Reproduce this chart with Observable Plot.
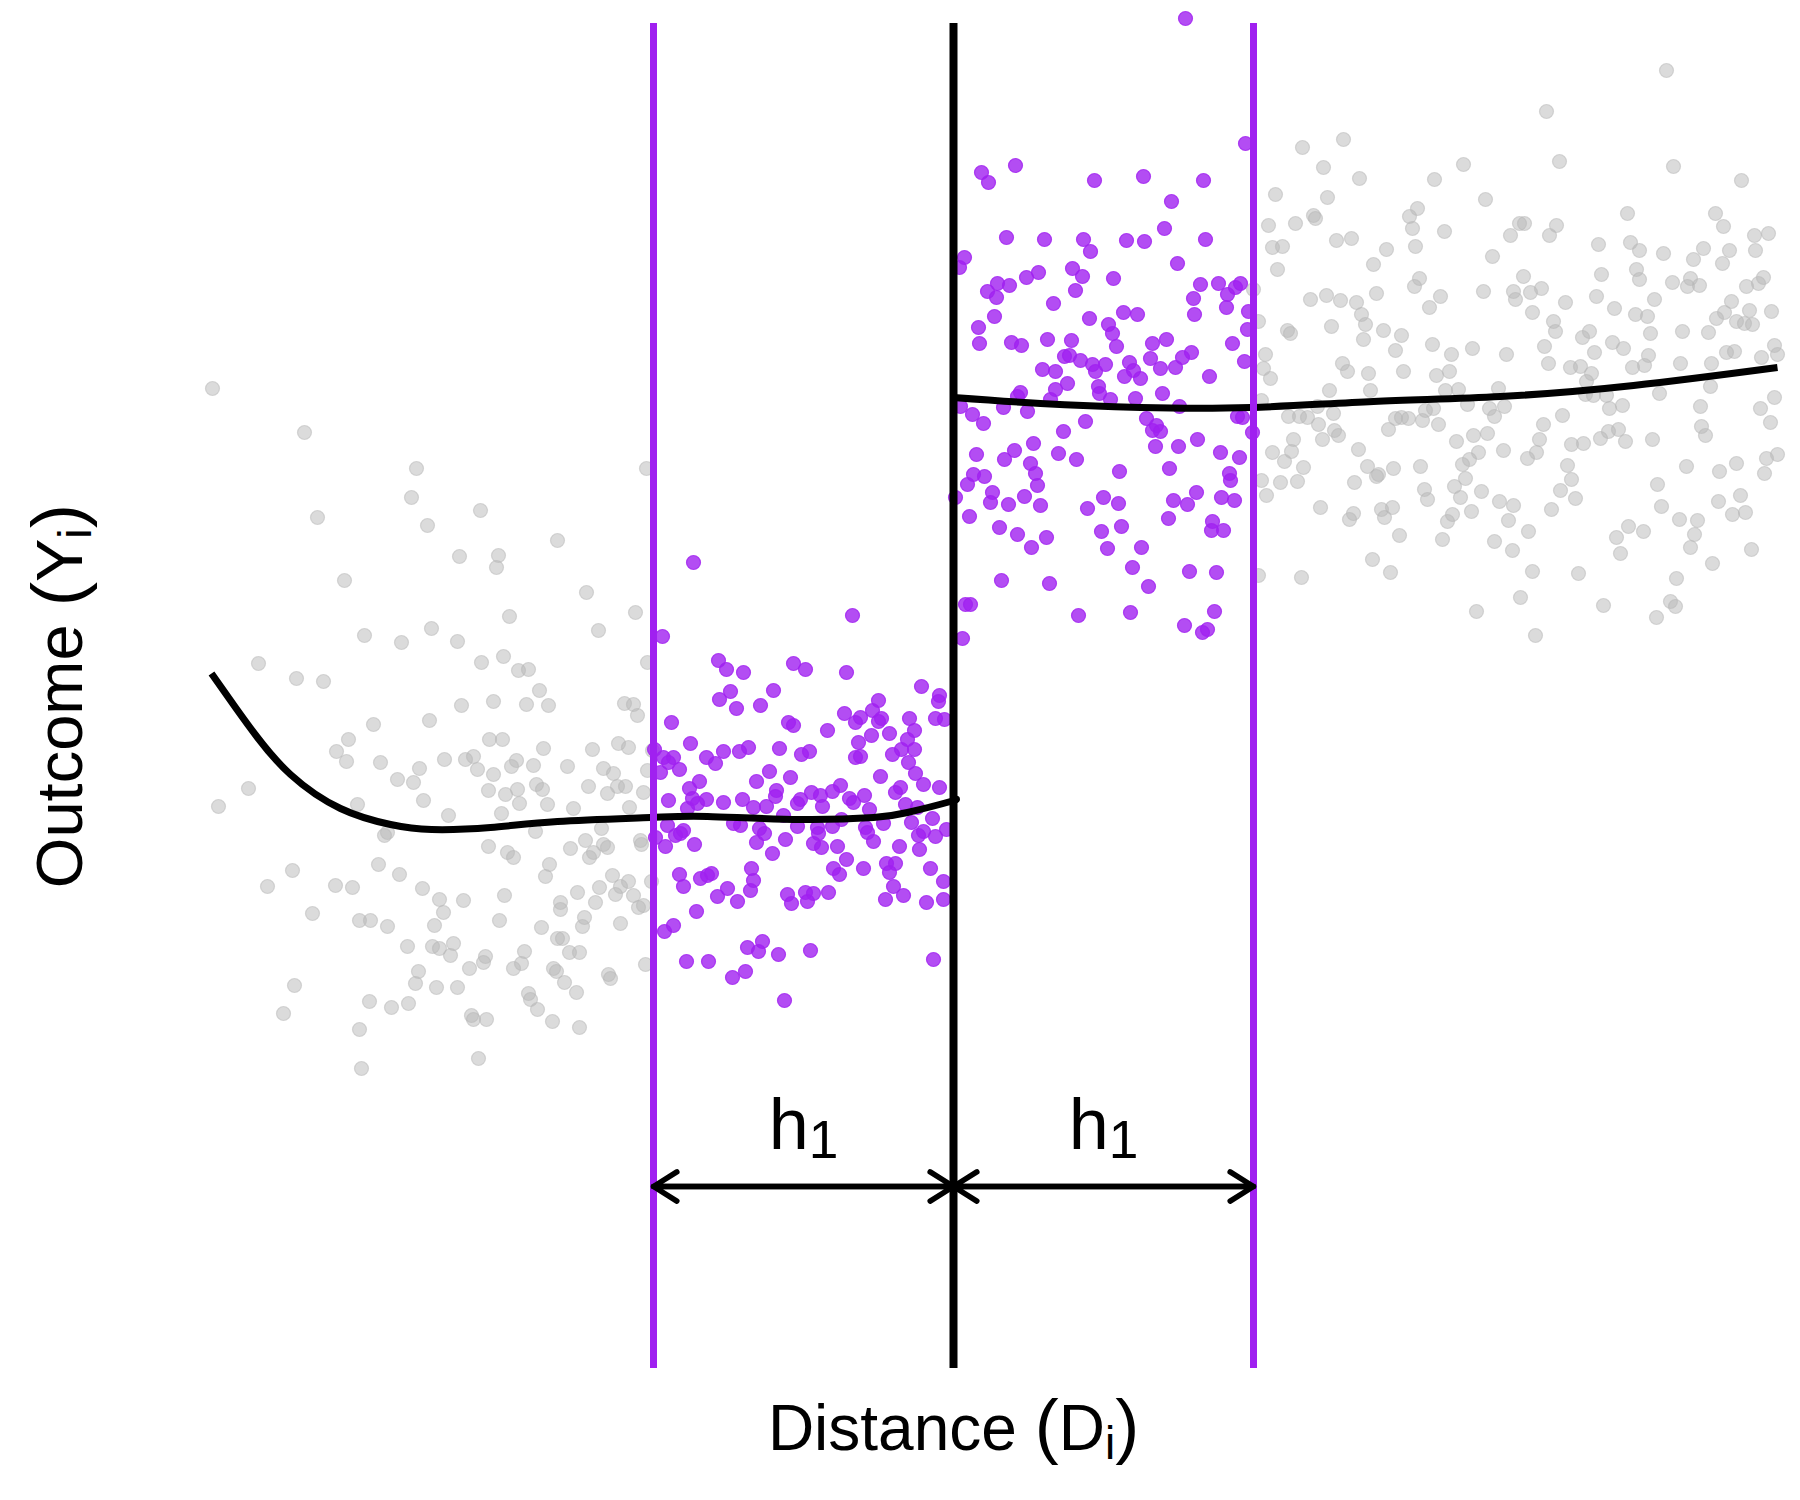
<!DOCTYPE html>
<html>
<head>
<meta charset="utf-8">
<script src="https://cdn.jsdelivr.net/npm/d3@7"></script>
<script src="https://cdn.jsdelivr.net/npm/@observablehq/plot@0.6"></script>
<style>
html, body { margin: 0; padding: 0; background: #ffffff; }
#chart svg { display: block; }
</style>
</head>
<body>
<div id="chart"></div>
<script>
// ---------------- DATA ----------------
// Distance D (cutoff at 0) and outcome Y, arbitrary units.
const cutoff = 0;
const bandwidth = 300;           // h1
const arrowLevel = 214;          // outcome level of the h1 arrows
const labelLevel = 252;          // outcome level of the h1 labels
const topDotOutcome = 1382;

const xTitle = "Distance (Di)";
const yTitle = "Outcome (Yi)";
const hLabel = "h1";

// grey points left of the window
const greyLeft = [[-741,1012],[-649,968],[-537,932],[-542,903],[-636,883],[-526,875],[-473,890],[-396,860],[-494,844],[-455,845],[-457,833],[-609,820],[-367,808],[-444,784],[-318,788],[-355,770],[-589,765],[-552,758],[-522,772],[-496,759],[-695,737],[-657,722],[-630,719],[-472,738],[-450,744],[-435,730],[-425,731],[-414,710],[-306,738],[-492,695],[-460,699],[-427,696],[-405,695],[-329,697],[-320,696],[-316,685],[-580,676],[-524,680],[-605,661],[-617,649],[-607,639],[-573,638],[-534,632],[-556,621],[-540,618],[-509,641],[-488,641],[-480,644],[-476,631],[-464,661],[-451,661],[-460,626],[-437,640],[-442,634],[-420,635],[-410,652],[-386,634],[-361,651],[-335,657],[-325,653],[-350,632],[-340,627],[-365,614],[-346,607],[-336,614],[-328,614],[-310,608],[-306,630],[-705,612],[-735,594],[-596,596],[-530,600],[-505,585],[-465,610],[-448,606],[-436,611],[-434,597],[-417,616],[-411,611],[-406,596],[-380,592],[-324,593],[-452,587],[-566,568],[-569,565],[-418,569],[-352,572],[-465,554],[-446,548],[-440,543],[-383,552],[-368,560],[-364,543],[-360,548],[-350,556],[-346,553],[-312,556],[-313,560],[-575,536],[-661,530],[-686,514],[-618,515],[-601,513],[-554,526],[-531,512],[-514,501],[-510,488],[-490,500],[-449,505],[-404,536],[-408,524],[-376,508],[-354,513],[-341,525],[-333,514],[-338,506],[-325,519],[-320,505],[-315,493],[-310,495],[-358,498],[-393,498],[-393,491],[-302,519],[-641,487],[-594,480],[-583,480],[-566,474],[-519,475],[-454,480],[-412,473],[-371,474],[-369,483],[-333,477],[-546,454],[-521,454],[-514,452],[-500,457],[-503,445],[-468,444],[-470,438],[-484,432],[-440,432],[-432,437],[-429,449],[-396,462],[-391,462],[-384,448],[-374,448],[-400,432],[-397,429],[-389,418],[-377,408],[-345,426],[-343,422],[-308,436],[-535,429],[-538,417],[-517,413],[-496,413],[-659,415],[-670,387],[-584,399],[-562,393],[-545,397],[-425,407],[-423,401],[-416,391],[-482,385],[-480,381],[-467,381],[-401,379],[-374,373],[-594,371],[-592,332],[-475,342],[-307,932],[-301,650]];

// purple points inside the window, left of the cutoff
const purpleLeft = [[-260,838],[-101,785],[-291,764],[-235,740],[-227,731],[-210,728],[-160,737],[-148,731],[-107,728],[-180,710],[-223,709],[-234,701],[-217,692],[-193,695],[-282,678],[-32,714],[-14,705],[-15,699],[-75,700],[-81,690],[-109,687],[-93,683],[-98,678],[-72,682],[-75,679],[-165,678],[-160,675],[-126,670],[-64,667],[-82,665],[-44,682],[-18,682],[-9,681],[-39,670],[-46,661],[-52,651],[-39,651],[-61,646],[-45,638],[-95,658],[-98,643],[-93,644],[-263,657],[-230,649],[-214,649],[-205,653],[-174,652],[-152,646],[-144,649],[-299,651],[-290,643],[-280,643],[-285,638],[-274,631],[-293,628],[-247,643],[-238,637],[-184,629],[-197,619],[-163,623],[-254,619],[-264,612],[-73,624],[-38,627],[-30,616],[-14,613],[-53,613],[-58,608],[-177,610],[-178,604],[-142,608],[-133,605],[-113,615],[-121,609],[-104,602],[-89,605],[-100,598],[-131,594],[-153,601],[-156,597],[-285,600],[-261,602],[-247,601],[-230,598],[-211,601],[-200,593],[-187,594],[-84,591],[-48,596],[-36,593],[-256,597],[-266,592],[-170,585],[-112,581],[-21,582],[-42,578],[-286,575],[-270,570],[-278,565],[-273,567],[-298,563],[-288,554],[-259,556],[-220,577],[-213,575],[-194,572],[-189,567],[-197,558],[-168,561],[-181,547],[-156,574],[-136,573],[-121,574],[-135,567],[-140,557],[-132,553],[-116,554],[-88,573],[-86,568],[-80,559],[-70,577],[-35,565],[-30,569],[-18,564],[-7,571],[-34,551],[-54,554],[-107,541],[-120,532],[-114,526],[-90,532],[-67,537],[-58,537],[-64,528],[-23,532],[-274,526],[-270,514],[-253,522],[-242,527],[-246,525],[-202,532],[-200,520],[-203,510],[-226,512],[-236,504],[-216,499],[-166,506],[-162,497],[-148,508],[-140,507],[-146,499],[-125,508],[-60,514],[-68,501],[-50,505],[-10,519],[-10,501],[-27,498],[-257,489],[-280,475],[-289,469],[-206,453],[-191,459],[-195,449],[-175,446],[-143,450],[-267,439],[-245,439],[-221,423],[-208,429],[-169,400],[-20,441]];

// purple points inside the window, right of the cutoff
const purpleRight = [[292,1257],[28,1228],[35,1218],[62,1235],[141,1220],[190,1224],[250,1220],[218,1199],[211,1172],[53,1163],[91,1161],[130,1161],[137,1149],[173,1160],[191,1159],[252,1161],[11,1143],[6,1133],[224,1137],[119,1132],[129,1124],[122,1110],[160,1122],[73,1123],[85,1128],[34,1109],[44,1117],[43,1103],[56,1115],[100,1097],[41,1084],[25,1073],[26,1057],[58,1058],[68,1055],[94,1061],[118,1060],[136,1082],[155,1076],[159,1067],[163,1054],[170,1088],[184,1086],[247,1116],[265,1117],[274,1106],[287,1117],[282,1113],[240,1102],[241,1086],[273,1093],[295,1089],[294,1071],[279,1057],[199,1057],[213,1061],[197,1042],[238,1048],[229,1043],[222,1033],[207,1032],[291,1039],[256,1024],[176,1038],[180,1030],[111,1044],[116,1045],[127,1040],[139,1036],[152,1036],[142,1029],[89,1031],[102,1029],[171,1024],[187,1022],[232,topDotOutcome],
[114,1017],[102,1011],[67,1008],[64,1004],[97,1001],[145,1014],[146,1007],[157,1001],[182,1002],[209,1007],[226,994],[7,994],[19,986],[30,977],[50,993],[74,989],[110,969],[132,979],[193,982],[203,975],[199,970],[207,969],[202,954],[225,954],[244,961],[284,984],[289,983],[299,968],[267,948],[286,943],[23,946],[51,941],[61,950],[80,957],[105,947],[123,941],[77,937],[82,927],[84,915],[20,926],[31,924],[14,916],[2,903],[39,908],[37,898],[55,896],[71,904],[87,895],[16,884],[166,929],[216,932],[276,927],[277,920],[243,908],[220,900],[234,896],[268,903],[281,900],[150,903],[165,897],[134,892],[215,882],[46,873],[64,866],[93,863],[78,853],[148,869],[168,874],[154,852],[188,853],[259,879],[258,870],[270,870],[179,833],[236,829],[263,828],[48,820],[96,817],[195,814],[12,796],[17,796],[125,785],[177,788],[261,789],[231,775],[249,768],[254,771],[9,762]];

// grey points right of the window
const greyRight = [[390,1261],[349,1253],[370,1233],[406,1222],[322,1206],[374,1203],[510,1236],[481,1221],[532,1201],[360,1185],[362,1182],[315,1175],[342,1177],[456,1184],[464,1192],[459,1172],[491,1169],[319,1153],[329,1154],[383,1160],[398,1162],[433,1151],[462,1154],[557,1165],[539,1144],[420,1136],[324,1131],[466,1122],[461,1114],[530,1109],[560,1109],[562,1101],[300,1111],[357,1101],[373,1105],[387,1100],[403,1098],[408,1086],[412,1076],[423,1107],[476,1093],[487,1104],[305,1079],[334,1070],[337,1067],[378,1074],[410,1061],[430,1070],[448,1065],[442,1050],[479,1056],[498,1046],[519,1052],[553,1046],[312,1046],[310,1032],[317,1022],[389,1037],[394,1029],[415,1027],[417,1010],[450,1029],[483,1025],[496,1029],[376,1010],[492,1010],[505,1011],[545,1012],[308,1000],[364,994],[335,984],[346,984],[354,983],[380,987],[365,976],[442,982],[448,983],[455,982],[469,980],[480,992],[472,990],[485,976],[435,971],[514,996],[536,992],[551,994],[541,984],[381,970],[385,965],[369,961],[340,961],[338,949],[319,948],[331,939],[350,933],[405,951],[414,934],[425,926],[423,924],[440,932],[467,934],[503,959],[520,965],[534,967],[550,950],[525,948],[516,941],[509,936],[512,922],[501,914],[507,903],[471,911],[474,901],[528,909],[327,918],[344,919],[308,920],[313,905],[401,918],[367,893],[400,887],[396,881],[428,891],[431,883],[439,893],[446,865],[518,889],[494,879],[499,886],[546,899],[560,895],[555,880],[489,861],[541,859],[559,850],[419,841],[437,828],[348,823],[305,825],[523,789],[567,803],[566,1177],
[713,1330],[593,1289],[606,1239],[720,1234],[788,1220],[674,1187],[762,1187],[770,1174],[571,1177],[596,1165],[603,1175],[645,1156],[677,1158],[686,1150],[710,1147],[740,1141],[750,1152],[769,1137],[776,1150],[801,1165],[815,1167],[802,1150],[570,1124],[577,1108],[588,1112],[579,1088],[612,1098],[648,1126],[643,1104],[661,1092],[683,1131],[686,1121],[682,1086],[694,1084],[701,1101],[719,1118],[737,1122],[734,1114],[746,1115],[793,1114],[805,1117],[810,1123],[778,1099],[771,1088],[763,1082],[783,1079],[791,1077],[799,1076],[796,1090],[818,1089],[600,1079],[602,1069],[591,1054],[595,1037],[629,1063],[636,1069],[641,1048],[659,1058],[670,1052],[697,1067],[729,1069],[755,1068],[617,1033],[627,1034],[638,1027],[633,1019],[679,1033],[691,1035],[695,1045],[727,1037],[758,1037],[773,1048],[781,1049],[808,1043],[821,1055],[824,1046],[632,1006],[640,1005],[653,1005],[656,992],[669,995],[706,1007],[757,1014],[747,994],[807,992],[817,978],[821,1003],[609,985],[590,976],[586,961],[583,948],[574,942],[618,956],[630,957],[647,962],[655,969],[665,971],[672,959],[699,961],[748,974],[752,965],[614,935],[618,921],[607,910],[622,902],[598,891],[575,869],[579,829],[582,765],[625,827],[650,795],[663,863],[675,874],[690,869],[667,847],[704,916],[708,894],[726,881],[733,934],[744,880],[741,866],[737,853],[723,822],[759,837],[765,899],[766,929],[783,937],[787,905],[779,886],[792,888],[798,851],[813,942],[811,927],[824,946],[717,799],[722,794],[703,783]];

// local fits
const leftFit = [[-742,727],[-718,693],[-696,663],[-663,626],[-613,592],[-563,576],[-522,571],[-463,573],[-396,579],[-303,583],[-246,584],[-153,581],[-80,583],[-46,588],[-3,599],[0,601]];
const rightFit = [[0,1003],[87,997],[187,993],[297,993],[420,999],[547,1004],[680,1015],[824,1033]];

const windowEdges = [cutoff - bandwidth, cutoff + bandwidth];
const arrows = [
  {x1: cutoff, x2: cutoff - bandwidth}, {x1: cutoff - bandwidth, x2: cutoff},
  {x1: cutoff, x2: cutoff + bandwidth}, {x1: cutoff + bandwidth, x2: cutoff}
];
const hLabels = [{x: cutoff - bandwidth / 2, label: hLabel}, {x: cutoff + bandwidth / 2, label: hLabel}];

// ---------------- STYLE ----------------
const PURPLE = "#a020f0";
const GREY = "#b8b8b8";
const FONT = "'Liberation Sans', Arial, Helvetica, sans-serif";

const plot = Plot.plot({
  width: 1800,
  height: 1500,
  marginLeft: 106,
  marginRight: 0,
  marginTop: 23,
  marginBottom: 132,
  x: {domain: [-847, 847], axis: null},
  y: {domain: [32, 1377], axis: null},
  style: {fontFamily: FONT, background: "#ffffff", color: "#000000"},
  marks: [
    Plot.dot(greyLeft.concat(greyRight), {x: d => d[0], y: d => d[1], r: 7,
      fill: GREY, fillOpacity: 0.5, stroke: GREY, strokeOpacity: 0.5, strokeWidth: 1.2}),
    Plot.dot(purpleLeft.concat(purpleRight), {x: d => d[0], y: d => d[1], r: 7,
      fill: PURPLE, fillOpacity: 0.8, stroke: PURPLE, strokeOpacity: 0.8, strokeWidth: 1.2}),
    Plot.line(leftFit, {x: d => d[0], y: d => d[1], curve: "natural", stroke: "#000", strokeWidth: 7, strokeLinecap: "butt"}),
    Plot.line(rightFit, {x: d => d[0], y: d => d[1], curve: "natural", stroke: "#000", strokeWidth: 7, strokeLinecap: "butt"}),
    Plot.ruleX(windowEdges, {stroke: PURPLE, strokeWidth: 7}),
    Plot.ruleX([cutoff], {stroke: "#000", strokeWidth: 8}),
    Plot.arrow(arrows, {x1: "x1", x2: "x2", y1: () => arrowLevel, y2: () => arrowLevel,
      stroke: "#000", strokeWidth: 5.5, headLength: 7.5, headAngle: 64}),
    Plot.text(hLabels, {x: "x", y: () => labelLevel, text: "label", lineAnchor: "bottom",
      textAnchor: "middle", fontSize: 72, fill: "#000", ariaLabel: () => "h-label"}),
    Plot.text([xTitle], {text: d => d, frameAnchor: "bottom", lineAnchor: "bottom", textAnchor: "middle", dy: 81,
      fontSize: 64, fill: "#000", ariaLabel: () => "x-title"}),
    Plot.text([yTitle], {text: d => d, frameAnchor: "left", rotate: -90, lineAnchor: "bottom", textAnchor: "middle", dx: -25,
      fontSize: 65, fill: "#000", ariaLabel: () => "y-title"})
  ]
});

// rich text: subscripts and enlarged parentheses, kept as real text in tspans
function richText(node, parts, base) {
  const t = d3.select(node);
  t.text(null);
  let shift = 0;
  for (const p of parts) {
    const ts = t.append("tspan").text(p.t).attr("font-size", base * (p.scale || 1));
    const want = (p.shift || 0) * base;
    if (want !== shift) { ts.attr("dy", want - shift); shift = want; }
  }
}
function texts(svg, label) {
  return svg.selectAll(`text[aria-label="${label}"], g[aria-label="${label}"] text`);
}
const svg = d3.select(plot);
texts(svg, "x-title").each(function () {
  richText(this, [{t: "Distance "}, {t: "(", scale: 1.125}, {t: "D"}, {t: "i", scale: 0.72, shift: 0.15}, {t: ")", scale: 1.125}], 64);
});
texts(svg, "y-title").each(function () {
  richText(this, [{t: "Outcome "}, {t: "(", scale: 1.125}, {t: "Y"}, {t: "i", scale: 0.72, shift: 0.15}, {t: ")", scale: 1.125}], 65);
});
texts(svg, "h-label").each(function () {
  richText(this, [{t: "h"}, {t: "1", scale: 0.74, shift: 0.13}], 72);
});

document.getElementById("chart").appendChild(plot);
</script>
</body>
</html>
